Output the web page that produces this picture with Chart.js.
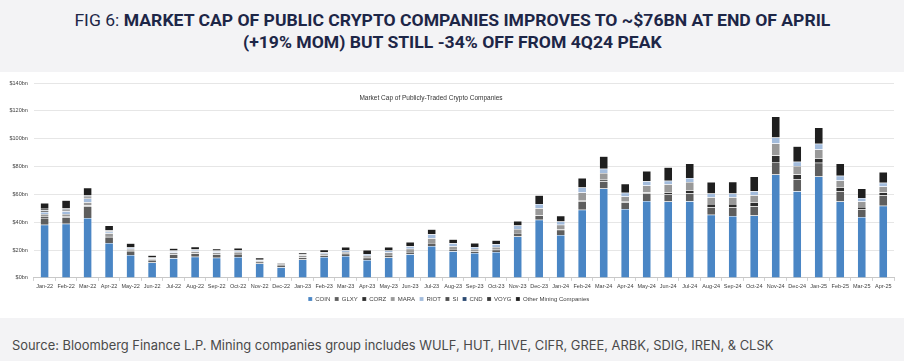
<!DOCTYPE html>
<html>
<head>
<meta charset="utf-8">
<script src="https://cdn.jsdelivr.net/npm/chart.js@4.4.1/dist/chart.umd.min.js"></script>
<style>
  html, body { margin: 0; padding: 0; }
  body { width: 904px; height: 361px; background: #f3f3f5; position: relative; overflow: hidden; font-family: "Liberation Sans", Arial, sans-serif; }
  #title { position: absolute; left: 0; top: 9px; width: 904px; text-align: center; color: #1d2647; font-family: Roboto, "Liberation Sans", sans-serif; font-size: 17px; line-height: 22px; }
  #title .ln { display: inline-block; white-space: nowrap; transform-origin: center center; }
  #title b { font-weight: 700; }
  #title .fig { font-weight: 400; }
  #panel { position: absolute; left: 0; top: 72px; width: 904px; height: 246px; background: #ffffff; }
  #chartTitle { position: absolute; left: -21px; width: 904px; top: 94px; text-align: center; font-size: 6.5px; color: #333; font-family: "Liberation Sans", Arial, sans-serif; }
  #source { position: absolute; left: 12px; top: 338px; font-family: Inter, "Noto Sans", sans-serif; font-size: 12.9px; color: #4a4a4a; white-space: nowrap; }
</style>
</head>
<body>
<div id="title">
  <span class="ln" id="l1"><span class="fig">FIG 6: </span><b>MARKET CAP OF PUBLIC CRYPTO COMPANIES IMPROVES TO ~$76BN AT END OF APRIL</b></span><br>
  <span class="ln" id="l2"><b>(+19% MOM) BUT STILL -34% OFF FROM 4Q24 PEAK</b></span>
</div>
<div id="panel"><canvas id="c" width="904" height="246"></canvas></div>
<div id="chartTitle">Market Cap of Publicly-Traded Crypto Companies</div>
<div id="source">Source: Bloomberg Finance L.P. Mining companies group includes WULF, HUT, HIVE, CIFR, GREE, ARBK, SDIG, IREN, &amp; CLSK</div>
<script>
// ---- data ($bn) ----
const months = ["Jan-22","Feb-22","Mar-22","Apr-22","May-22","Jun-22","Jul-22","Aug-22","Sep-22","Oct-22","Nov-22","Dec-22",
  "Jan-23","Feb-23","Mar-23","Apr-23","May-23","Jun-23","Jul-23","Aug-23","Sep-23","Oct-23","Nov-23","Dec-23",
  "Jan-24","Feb-24","Mar-24","Apr-24","May-24","Jun-24","Jul-24","Aug-24","Sep-24","Oct-24","Nov-24","Dec-24",
  "Jan-25","Feb-25","Mar-25","Apr-25"];
const coin = [38.1,38.9,43.0,25.1,16.4,11.1,14.2,15.2,14.5,15.0,10.4,7.7,
  13.3,15.0,15.7,12.8,14.7,16.9,22.9,19.1,17.9,18.6,29.7,41.8,
  30.9,49.0,64.2,49.5,55.3,54.8,55.0,45.4,44.4,44.9,74.3,62.3,
  72.9,54.8,43.7,51.9];
const glxy = [4.9,4.5,8.2,4.3,2.9,1.7,2.7,2.4,2.4,2.1,1.2,1.5,
  1.4,1.2,1.7,1.7,1.7,1.7,2.2,1.7,1.2,1.7,2.6,3.1,
  3.6,5.8,5.3,4.8,5.3,5.3,5.8,5.3,6.3,6.5,9.0,8.4,
  9.9,7.5,5.5,7.5];
const corz = [1.0,0.8,0.8,0.5,0.3,0.2,0.2,0.2,0.1,0.1,0.05,0,
  0,0,0,0,0,0,0,0,0,0,0,0,
  0.5,1.0,1.0,0.8,0.8,1.4,2.2,2.4,2.4,2.9,4.6,3.6,
  3.1,2.9,1.7,1.9];
const mara = [1.9,1.7,2.3,2.2,1.2,0.8,1.2,1.3,1.3,1.4,0.65,0.7,
  1.5,1.2,1.2,1.4,1.9,2.4,3.4,1.9,1.7,1.9,2.9,5.1,
  3.1,5.5,4.8,3.3,5.0,5.8,5.8,4.8,4.8,5.1,8.6,6.1,
  6.3,4.8,3.9,4.4];
const riot = [1.4,1.9,2.7,1.0,0.7,0.4,0.8,0.9,0.8,0.7,0.5,0.2,
  0.5,0.9,1.2,1.2,1.3,1.7,2.9,2.2,1.4,1.9,2.5,3.1,
  2.5,3.6,3.1,2.7,3.1,2.5,2.9,2.7,2.7,2.9,4.4,3.1,
  4.1,3.4,2.6,2.6];
const si = [1.0,1.0,1.2,0.6,0.4,0.3,0.4,0.5,0.4,0.4,0.2,0.2,
  0.2,0.1,0,0,0,0,0,0,0,0,0,0,
  0,0,0,0,0,0,0,0,0,0,0,0,
  0,0,0,0];
const cnd = [0.3,0.3,0.3,0.2,0.2,0.1,0.1,0.1,0.1,0.1,0.1,0.05,
  0,0,0,0,0,0,0,0,0,0,0,0,
  0,0,0,0,0,0,0,0,0,0,0,0,
  0,0,0,0];
const voyg = [1.0,0.8,0.6,0.3,0.1,0.05,0.02,0.02,0.01,0.01,0,0,
  0,0,0,0,0,0,0,0,0,0,0,0,
  0,0,0,0,0,0,0,0,0,0,0,0,
  0,0,0,0];
const other = [4.2,5.9,5.6,3.5,2.7,1.6,1.6,1.8,1.4,1.7,1.4,0.75,
  1.2,1.9,2.4,2.9,2.6,3.1,3.6,2.9,2.9,2.9,3.1,6.3,
  4.1,6.8,9.0,6.5,7.3,9.6,10.4,8.2,8.4,10.6,15.0,11.1,
  11.8,8.7,6.8,7.7];
const yTicks = [0,20,40,60,80,100,120,140];

// fit title width
(function(){
  const l1 = document.getElementById('l1'), l2 = document.getElementById('l2');
  const s = 756 / l1.getBoundingClientRect().width;
  l1.style.transform = 'scaleX(' + s + ')';
  l2.style.transform = 'scaleX(' + s + ')';
})();

const series = [
  ["COIN", coin, "#4a86c5"],
  ["GLXY", glxy, "#5e5e5e"],
  ["CORZ", corz, "#2e2e2e"],
  ["MARA", mara, "#999999"],
  ["RIOT", riot, "#a3bcdc"],
  ["SI", si, "#4f4f4f"],
  ["CND", cnd, "#2b4a72"],
  ["VOYG", voyg, "#3a3a3a"],
  ["Other Mining Companies", other, "#1f1f1f"]
];

new Chart(document.getElementById('c'), {
  type: 'bar',
  data: {
    labels: months,
    datasets: series.map(([n, d, col]) => ({
      label: n, data: d, backgroundColor: col,
      borderColor: 'rgba(255,255,255,0.35)', borderWidth: 0.5,
      barPercentage: 0.4, categoryPercentage: 1.0
    }))
  },
  options: {
    responsive: false, animation: false,
    layout: { padding: { left: 3.5, right: 10, top: 11, bottom: 6 } },
    plugins: {
      legend: {
        position: 'bottom',
        labels: { boxWidth: 4, boxHeight: 4, padding: 4.5, color: '#404040', font: { size: 6, family: 'Liberation Sans' } }
      },
      tooltip: { enabled: false }
    },
    scales: {
      x: {
        stacked: true,
        grid: { display: true, drawOnChartArea: false, offset: true, tickLength: 3, color: '#d0d0d0' },
        border: { color: '#c8c8c8' },
        ticks: { autoSkip: false, maxRotation: 0, minRotation: 0, padding: 2, color: '#404040', font: { size: 5.5, family: 'Liberation Sans' } }
      },
      y: {
        stacked: true, min: 0, max: 140,
        afterBuildTicks: ax => { ax.ticks = yTicks.map(v => ({ value: v })); },
        grid: { color: '#e6e6e6', drawTicks: false },
        border: { display: false },
        ticks: { padding: 6, color: '#404040', font: { size: 5.5, family: 'Liberation Sans' }, callback: v => '$' + v + 'bn' }
      }
    }
  }
});
</script>
</body>
</html>
